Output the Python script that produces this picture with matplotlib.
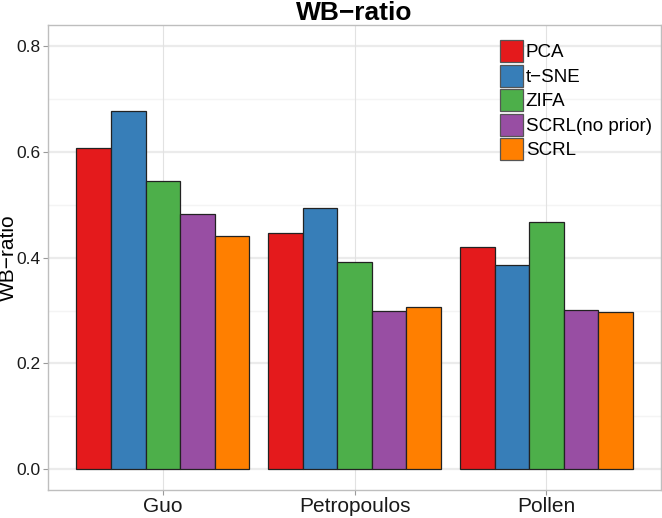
import matplotlib
matplotlib.use('Agg')
import matplotlib.pyplot as plt
from matplotlib.patches import Patch
import numpy as np

plt.rcParams['font.family'] = ['Liberation Sans', 'DejaVu Sans']

# data
datasets = ['Guo', 'Petropoulos', 'Pollen']
methods = ['PCA', 't\u2212SNE', 'ZIFA', 'SCRL(no prior)', 'SCRL']
pca = [0.608, 0.446, 0.421]
tsne = [0.678, 0.493, 0.387]
zifa = [0.545, 0.391, 0.468]
scrl_np = [0.483, 0.299, 0.301]
scrl = [0.441, 0.306, 0.297]
colors = ['#E41A1C', '#377EB8', '#4DAF4A', '#984EA3', '#FF7F00']

series = [pca, tsne, zifa, scrl_np, scrl]

fig = plt.figure(figsize=(6.62, 5.18), dpi=100)
ax = fig.add_axes([47.7 / 662, 1 - 490.3 / 518, (661.5 - 47.7) / 662, (490.3 - 25) / 518])

x = np.arange(1, len(datasets) + 1)
w = 0.9 / len(methods)
for i, vals in enumerate(series):
    ax.bar(x + (i - 2) * w, vals, width=w, color=colors[i], edgecolor='#222222',
           linewidth=0.9, zorder=3)

ax.set_xlim(0.4, 3.6)
ax.set_ylim(-0.04, 0.84)
ax.set_xticks(x)
ax.set_xticklabels(datasets, fontsize=15)
ax.set_yticks([0.0, 0.2, 0.4, 0.6, 0.8])
ax.set_yticklabels(['0.0', '0.2', '0.4', '0.6', '0.8'], fontsize=12.5)
ax.set_yticks([0.1, 0.3, 0.5, 0.7], minor=True)

# grid
for yv in [0.0, 0.2, 0.4, 0.6, 0.8]:
    ax.axhline(yv, color='#EBEBEB', linewidth=1.6, zorder=0)
for yv in [0.1, 0.3, 0.5, 0.7]:
    ax.axhline(yv, color='#F4F4F4', linewidth=1.0, zorder=0)
for xv in x:
    ax.axvline(xv, color='#E2E2E2', linewidth=0.8, zorder=0)

for s in ax.spines.values():
    s.set_color('#BEBEBE')
    s.set_linewidth(1.0)
ax.tick_params(axis='both', which='major', color='#9A9A9A', length=3.5, width=0.8,
               labelcolor='#1A1A1A', pad=1.5)
ax.tick_params(axis='y', which='minor', length=0)

ax.set_title('WB\u2212ratio', fontsize=19, fontweight='bold', pad=2)
ax.set_ylabel('WB\u2212ratio', fontsize=15)
ax.yaxis.set_label_coords(-0.0645, 0.5)
ax.yaxis.label.set_va('center')

handles = [Patch(facecolor=c, edgecolor='#555555', linewidth=0.9) for c in colors]
leg = ax.legend(handles, methods, loc='upper left',
                bbox_to_anchor=(500 / 662, 1 - 40 / 518), bbox_transform=fig.transFigure,
                frameon=False, fontsize=13.5, handlelength=1.23, handleheight=1.45,
                labelspacing=0.12, handletextpad=0.15, borderpad=0, borderaxespad=0)

fig.savefig('out.png', dpi=100)
